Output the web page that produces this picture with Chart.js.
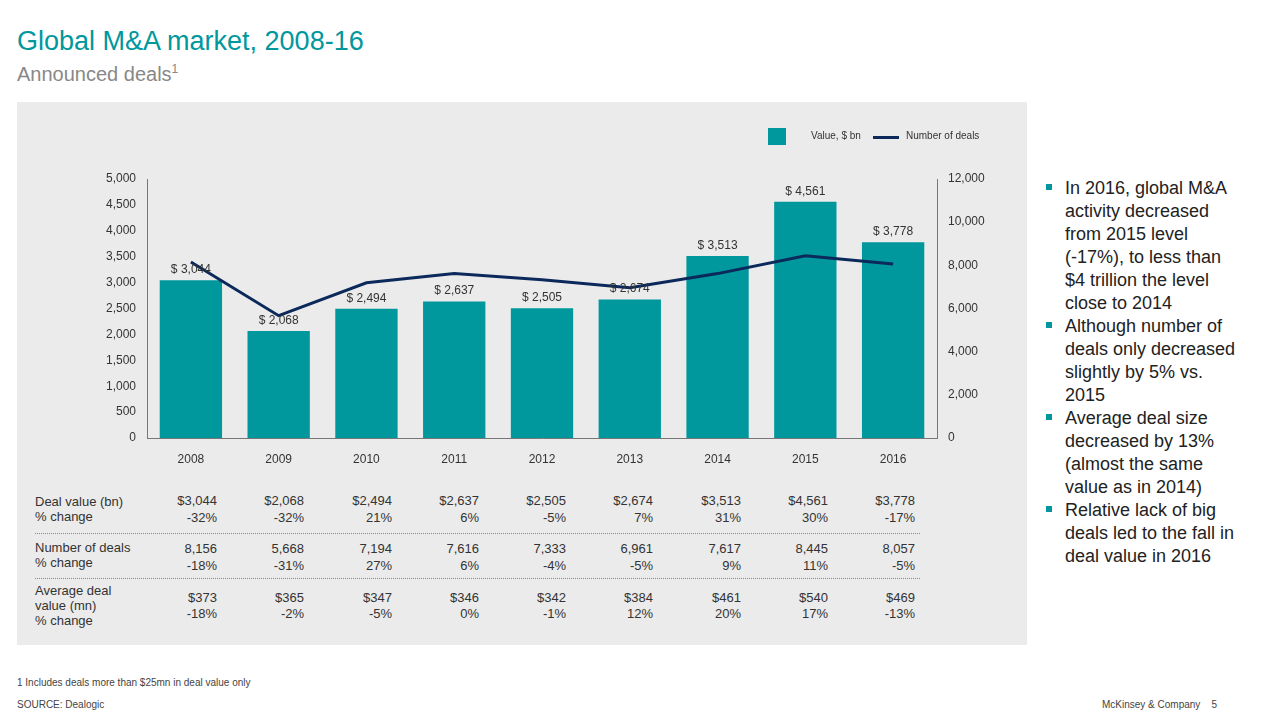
<!DOCTYPE html>
<html><head><meta charset="utf-8">
<script src="https://cdn.jsdelivr.net/npm/chart.js@4"></script>
<style>
body{margin:0;width:1280px;height:720px;background:#fff;font-family:"Liberation Sans",Arial,sans-serif;position:relative;overflow:hidden}
.a{position:absolute;white-space:nowrap}
#panel{position:absolute;left:17px;top:102px;width:1010px;height:543px;background:#ebebeb}
.c{position:absolute;font-size:13px;color:#333;text-align:right;width:80px}
.lab{position:absolute;left:35px;font-size:13px;color:#333;line-height:15px}
.sep{position:absolute;left:35px;width:885px;border-top:1px dotted #888}
ul{margin:0;padding:0;list-style:none}
li{position:relative;padding-left:22px;font-size:18px;line-height:23px;color:#222;margin-bottom:0}
li:before{content:"";position:absolute;left:3px;top:7px;width:6px;height:6px;background:#00979d}
</style></head><body>
<div class="a" style="left:17px;top:26px;font-size:27px;color:#00979d">Global M&amp;A market, 2008-16</div>
<div class="a" style="left:17px;top:62px;font-size:20px;color:#888">Announced deals<sup style="font-size:12px">1</sup></div>
<div id="panel"></div>
<canvas id="c" class="a" style="left:17px;top:102px;width:1010px;height:366px"></canvas>
<div class="a" style="left:768px;top:128px;width:18px;height:17px;background:#00979d"></div>
<div class="a" style="left:811px;top:130px;font-size:10px;color:#333">Value, $ bn</div>
<div class="a" style="left:873px;top:136px;width:26px;height:3px;background:#0b2a5b"></div>
<div class="a" style="left:906px;top:130px;font-size:10px;color:#333">Number of deals</div>
<div id="tbl"></div>
<div class="a" style="left:1043px;top:177px;width:196px;white-space:normal"><ul>
<li>In 2016, global M&amp;A activity decreased from 2015 level (-17%), to less than $4 trillion the level close to 2014</li>
<li>Although number of deals only decreased slightly by 5% vs. 2015</li>
<li>Average deal size decreased by 13% (almost the same value as in 2014)</li>
<li>Relative lack of big deals led to the fall in deal value in 2016</li></ul></div>
<div class="a" style="left:17px;top:677px;font-size:10px;color:#444">1 Includes deals more than $25mn in deal value only</div>
<div class="a" style="left:17px;top:699px;font-size:10px;color:#444">SOURCE: Dealogic</div>
<div class="a" style="left:1102px;top:699px;font-size:10px;color:#444">McKinsey &amp; Company&nbsp;&nbsp;&nbsp;&nbsp;5</div>
<script>
const years=["2008","2009","2010","2011","2012","2013","2014","2015","2016"];
const dealValue=[3044,2068,2494,2637,2505,2674,3513,4561,3778];
const dealCount=[8156,5668,7194,7616,7333,6961,7617,8445,8057];
const valueChg=["-32%","-32%","21%","6%","-5%","7%","31%","30%","-17%"];
const countChg=["-18%","-31%","27%","6%","-4%","-5%","9%","11%","-5%"];
const avgSize=[373,365,347,346,342,384,461,540,469];
const avgChg=["-18%","-2%","-5%","0%","-1%","12%","20%","17%","-13%"];
const fmt=v=>v.toLocaleString("en-US");
Chart.defaults.font.family='"Liberation Sans",Arial,sans-serif';
const labelPlugin={id:'lab',afterDatasetsDraw(ch){const ctx=ch.ctx,m=ch.getDatasetMeta(1);ctx.save();ctx.font='12px "Liberation Sans",Arial';ctx.fillStyle='#333';ctx.textAlign='center';m.data.forEach((b,i)=>ctx.fillText('$ '+fmt(dealValue[i]),b.x,b.y-7));ctx.restore();}};
new Chart(document.getElementById('c'),{
data:{labels:years,datasets:[
{type:'line',data:dealCount,yAxisID:'y2',borderColor:'#0b2a5b',borderWidth:3,pointRadius:0,order:0},
{type:'bar',data:dealValue,yAxisID:'y',backgroundColor:'#00979d',barPercentage:0.71,categoryPercentage:1,order:1}]},
options:{responsive:false,animation:false,layout:{padding:{top:77,bottom:0}},
plugins:{legend:{display:false},tooltip:{enabled:false}},
scales:{
x:{grid:{display:false},border:{color:'#777'},ticks:{color:'#333',font:{size:12},padding:6},afterFit(s){s.height=30}},
y:{position:'left',min:0,max:5000,ticks:{stepSize:500,color:'#333',font:{size:12},callback:v=>fmt(v)},grid:{display:false,drawTicks:true},border:{color:'#777'},afterFit(s){s.width=130}},
y2:{position:'right',min:0,max:12000,ticks:{stepSize:2000,color:'#333',font:{size:12},callback:v=>fmt(v)},grid:{display:false},border:{color:'#777'},afterFit(s){s.width=90}}}},
plugins:[labelPlugin]});
const t=document.getElementById('tbl');let h='';
const row=(arr,top)=>arr.forEach((v,i)=>{h+=`<div class="c" style="left:${Math.round(217+i*87.25-80)}px;top:${top}px">${v}</div>`});
h+='<div class="lab" style="top:494px">Deal value (bn)<br>% change</div>';
row(dealValue.map(v=>'$'+fmt(v)),493);row(valueChg,510);
h+='<div class="sep" style="top:533px"></div>';
h+='<div class="lab" style="top:540px">Number of deals<br>% change</div>';
row(dealCount.map(fmt),541);row(countChg,558);
h+='<div class="sep" style="top:578px"></div>';
h+='<div class="lab" style="top:583px">Average deal<br>value (mn)<br>% change</div>';
row(avgSize.map(v=>'$'+v),590);row(avgChg,606);
t.innerHTML=h;
</script></body></html>
